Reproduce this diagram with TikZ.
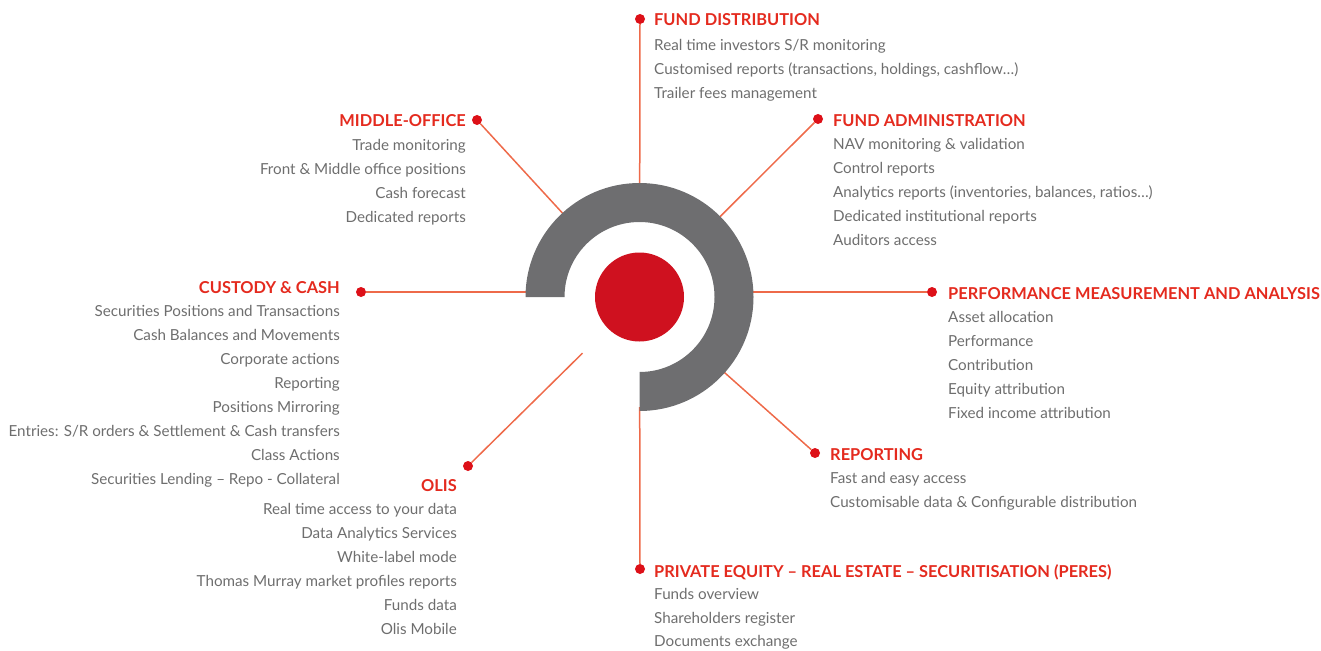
\documentclass[tikz,border=0pt]{standalone}
\usepackage{fontspec}
\setmainfont{Lato}
\usetikzlibrary{calc}
\definecolor{ringgray}{HTML}{6E6E70}
\definecolor{corered}{HTML}{CF111F}
\definecolor{headred}{HTML}{E42A1E}
\definecolor{linered}{HTML}{EE6A4A}
\definecolor{dotred}{HTML}{DD1018}
\definecolor{itemgray}{HTML}{6E6E6E}
\tikzset{
  item/.style={inner sep=0pt, text=itemgray, font=\fontsize{15.2}{17}\selectfont},
  head/.style={inner sep=0pt, text=headred, font=\fontsize{16.4}{18}\selectfont\bfseries},
  dot/.style={circle, fill=dotred, minimum size=10pt, inner sep=0pt},
  spoke/.style={draw=linered, line width=1.5pt}
}
\newcommand{\itemsL}[5][24]{% [spacing] x, y0, prefix, list
  \foreach \t [count=\i] in {#5} {
    \node[item, anchor=base west] (#4\i) at (#2, {#3+6.5+#1*(\i-1)}) {\t};
  }}
\newcommand{\itemsR}[4]{%
  \foreach \t [count=\i] in {#4} {
    \node[item, anchor=base east] (#3\i) at (#1, {#2+6.5+24*(\i-1)}) {\t};
  }}
\begin{document}
\begin{tikzpicture}[x=1pt, y=-1pt]
\useasboundingbox (0,0) rectangle (1321,650);
\coordinate (c) at (639.5,297);
\coordinate (aL) at ($(c)+(180:110)$);
\coordinate (aR) at ($(c)+(0:110)$);
% dots
\node[dot] (dFD) at (640,19) {};
\node[dot] (dMO) at (477,120) {};
\node[dot] (dFA) at (818,119) {};
\node[dot] (dCC) at (361,292) {};
\node[dot] (dPM) at (932,292) {};
\node[dot] (dRE) at (815,453) {};
\node[dot] (dOL) at (468,466) {};
\node[dot] (dPE) at (640,569) {};
% spokes
\draw[spoke] (dFD) -- ($(c)!110pt!(dFD)$);
\draw[spoke] (dMO) -- ($(c)!110pt!(dMO)$);
\draw[spoke] (dFA) -- ($(c)!110pt!(dFA)$);
\draw[spoke] (dCC) -- (dCC -| aL);
\draw[spoke] (dPM) -- (dPM -| aR);
\draw[spoke] (dRE) -- ($(c)!110pt!(dRE)$);
\draw[spoke] (dOL) -- ($(c)!80pt!(dOL)$);
\draw[spoke] (dPE) -- ($(c)!110pt!(dPE)$);
% ring
\fill[ringgray] ($(c)+(180:114)$) arc[start angle=180, end angle=450, radius=114]
  -- ($(c)+(450:75)$) arc[start angle=450, end angle=180, radius=75] -- cycle;
\fill[corered] (c) circle[radius=44.5];
% texts
\node[head, anchor=base west] (hFD) at (654,26) {FUND DISTRIBUTION};
\itemsL{654}{44}{fd}{Real time investors S/R monitoring, {Customised reports (transactions, holdings, cashflow…)}, Trailer fees management}
\node[head, anchor=base east] (hMO) at (466,127) {MIDDLE-OFFICE};
\itemsR{466}{144}{mo}{Trade monitoring, Front \& Middle office positions, Cash forecast, Dedicated reports}
\node[head, anchor=base west] (hFA) at (833,126) {FUND ADMINISTRATION};
\itemsL{833}{143}{fa}{NAV monitoring \& validation, Control reports, {Analytics reports (inventories, balances, ratios…)}, Dedicated institutional reports, Auditors access}
\node[head, anchor=base east] (hCC) at (340,293) {CUSTODY \& CASH};
\itemsR{340}{310}{cc}{Securities Positions and Transactions, Cash Balances and Movements, Corporate actions, Reporting, Positions Mirroring, Entries: S/R orders \& Settlement \& Cash transfers, Class Actions, Securities Lending – Repo - Collateral}
\node[head, anchor=base west] (hPM) at (948,299) {PERFORMANCE MEASUREMENT AND ANALYSIS};
\itemsL{948}{316}{pm}{Asset allocation, Performance, Contribution, Equity attribution, Fixed income attribution}
\node[head, anchor=base west] (hRE) at (830,460) {REPORTING};
\itemsL{830}{477}{re}{Fast and easy access, Customisable data \& Configurable distribution}
\node[head, anchor=base east] (hOL) at (457,491) {OLIS};
\itemsR{457}{508}{ol}{Real time access to your data, Data Analytics Services, White-label mode, Thomas Murray market profiles reports, Funds data, Olis Mobile}
\node[head, anchor=base west] (hPE) at (654,577) {PRIVATE EQUITY – REAL ESTATE – SECURITISATION (PERES)};
\itemsL[23.5]{654}{593}{pe}{Funds overview, Shareholders register, Documents exchange}
\end{tikzpicture}
\end{document}
